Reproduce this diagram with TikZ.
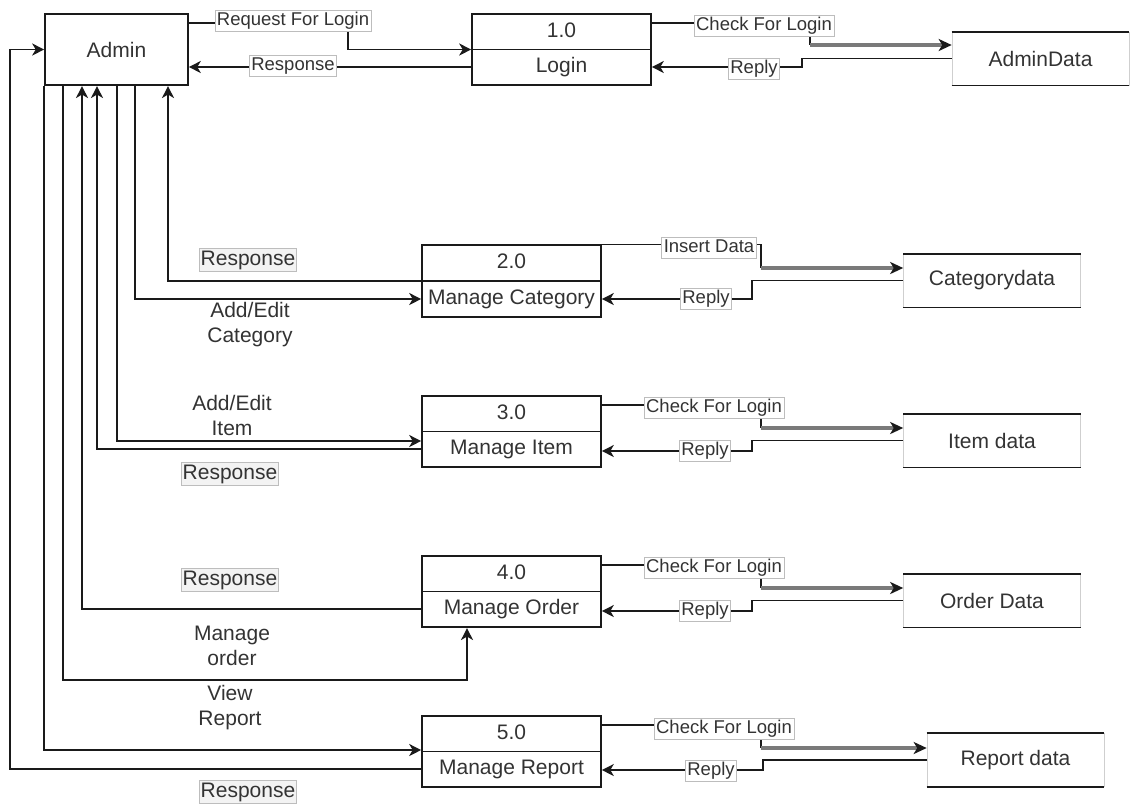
\documentclass[tikz,border=0pt]{standalone}
\usepackage{fontspec}
\setmainfont{Liberation Sans}
\usetikzlibrary{arrows.meta}

\definecolor{ink}{HTML}{1A1A1A}
\definecolor{txt}{HTML}{333333}
\definecolor{lblborder}{HTML}{BDBDBD}
\definecolor{lblfill}{HTML}{F3F3F3}
\definecolor{feedgray}{HTML}{7A7A7A}
\definecolor{storeside}{HTML}{CFCFCF}

\newcommand\bigtxt{\fontsize{21}{25}\selectfont}
\newcommand\lbltxt{\fontsize{18.5}{22}\selectfont}

\begin{document}
\begin{tikzpicture}[x=1pt,y=-1pt,
  >={Stealth[length=12pt,width=12pt,inset=3.5pt]},
  edge/.style={draw=ink, line width=1.6pt},
  flow/.style={edge, ->},
  feed/.style={draw=feedgray, line width=3.2pt,
    -{Stealth[length=13pt,width=12pt,inset=3.5pt,color=ink]}},
  proc/.style={draw=ink, line width=1.6pt, minimum width=179pt,
    minimum height=71.5pt, inner sep=0pt},
  actor/.style={proc, minimum width=143pt, text=txt, font=\bigtxt},
  store/.style={draw=storeside, line width=0.6pt, minimum width=177pt,
    minimum height=53pt, inner sep=0pt, text=txt, font=\bigtxt},
  basetxt/.style={text=txt, font=\bigtxt, inner sep=0pt},
  word/.style={basetxt, text height=15pt, text depth=4pt},
  stack/.style={basetxt, align=center},
  lbl/.style={draw=lblborder, fill=white, line width=0.6pt, text=txt,
    font=\lbltxt, inner xsep=2pt, inner ysep=1.5pt,
    text height=13.5pt, text depth=4pt},
  note/.style={draw=lblborder, fill=lblfill, line width=0.6pt, text=txt,
    font=\bigtxt, inner xsep=1pt, inner ysep=1.5pt,
    text height=15pt, text depth=4.5pt}
]
\useasboundingbox (0,0) rectangle (1130,804);

% external entity
\node[actor] (admin) at (116.5,49.5) {Admin};

% processes: number on top, name below
\node[proc] (p1) at (561.5,49.5) {};
\node[proc] (p2) at (511.5,281) {};
\node[proc] (p3) at (511.5,431.5) {};
\node[proc] (p4) at (511.5,591.5) {};
\node[proc] (p5) at (511.5,751.5) {};
\foreach \p/\n/\t in {p1/1.0/Login, p2/2.0/Manage Category,
    p3/3.0/Manage Item, p4/4.0/Manage Order, p5/5.0/Manage Report} {
  \draw[edge] (\p.west) -- (\p.east);
  \node[word] (\p-num) at ([yshift=17.75pt]\p.center) {\n};
  \node[word] (\p-name) at ([yshift=-17.75pt]\p.center) {\t};
}

% data stores: open boxes with heavy top and bottom rules
\node[store] (d1) at (1040.5,58.5) {AdminData};
\node[store] (d2) at (992,280.5) {Categorydata};
\node[store] (d3) at (992,440.5) {Item data};
\node[store] (d4) at (992,600.5) {Order Data};
\node[store] (d5) at (1015.5,760) {Report data};
\foreach \s in {d1,d2,d3,d4,d5}
  \draw[edge] (\s.north west) -- (\s.north east)
              (\s.south west) -- (\s.south east);

% Admin <-> Login
\draw[flow] (admin.east |- 0,23) -| (348,49.5) -- (p1.west);
\draw[flow] (p1.west |- 0,67) -- (admin.east |- 0,67);

% processes <-> data stores
\draw[edge] (p1.east |- 0,23) -| (810,45);
\draw[feed] (810,45) -- (d1.west |- 0,45);
\draw[flow] (d1.west) -| (802,67) -- (p1.east |- 0,67);

\draw[edge] (p2.north east) -| (761,268);
\draw[feed] (761,268) -- (d2.west |- 0,268);
\draw[flow] (d2.west) -| (752,299) -- (p2.east |- 0,299);

\draw[edge] (p3.east |- 0,405) -| (761,428);
\draw[feed] (761,428) -- (d3.west |- 0,428);
\draw[flow] (d3.west) -| (752,451) -- (p3.east |- 0,451);

\draw[edge] (p4.east |- 0,565) -| (761,588);
\draw[feed] (761,588) -- (d4.west |- 0,588);
\draw[flow] (d4.west) -| (752,611) -- (p4.east |- 0,611);

\draw[edge] (p5.east |- 0,725) -| (761,748);
\draw[feed] (761,748) -- (d5.west |- 0,748);
\draw[flow] (d5.west) -| (763,770) -- (p5.east |- 0,770);

% Admin <-> processes 2.0 to 5.0
\draw[flow] (p2.west) -| (admin.south -| 168,0);
\draw[flow] (admin.south -| 135,0) |- (p2.west |- 0,299);
\draw[flow] (admin.south -| 117,0) |- (p3.west |- 0,441);
\draw[flow] (p3.west |- 0,449) -| (admin.south -| 97,0);
\draw[flow] (p4.west |- 0,609) -| (admin.south -| 82,0);
\draw[flow] (admin.south -| 63,0) |- (467,680) -- (p4.south -| 467,0);
\draw[flow] (admin.south west) |- (p5.west |- 0,750);
\draw[flow] (p5.west |- 0,769) -| (10,49.5) -- (admin.west);

% flow labels
\node[lbl] (lreq)   at (293,21)  {Request For Login};
\node[lbl] (lresp1) at (293,66)  {Response};
\node[lbl] (lchk1)  at (764,26)  {Check For Login};
\node[lbl] (lrep1)  at (754,69)  {Reply};
\node[lbl] (lins)   at (709,248) {Insert Data};
\node[lbl] (lrep2)  at (706,299) {Reply};
\node[lbl] (lchk3)  at (714,408) {Check For Login};
\node[lbl] (lrep3)  at (705,451) {Reply};
\node[lbl] (lchk4)  at (714,568) {Check For Login};
\node[lbl] (lrep4)  at (705,611) {Reply};
\node[lbl] (lchk5)  at (724,729) {Check For Login};
\node[lbl] (lrep5)  at (711,771) {Reply};

\node[note]  (n2) at (248,260) {Response};
\node[stack] (t2) at (250,325) {Add/Edit\\Category};
\node[stack] (t3) at (232,415) {Add/Edit\\Item};
\node[note]  (n3) at (230,474) {Response};
\node[note]  (n4) at (230,580) {Response};
\node[stack] (t4) at (232,646) {Manage\\order};
\node[stack] (t5) at (230,708) {View\\Report};
\node[note]  (n5) at (248,792) {Response};
\end{tikzpicture}
\end{document}
